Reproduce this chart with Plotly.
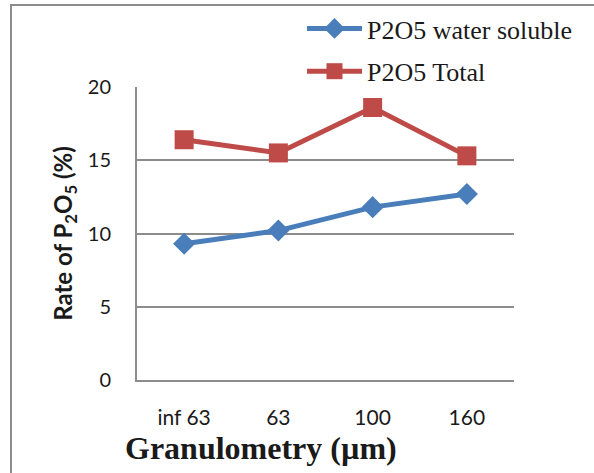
import plotly.graph_objects as go

# Granulometry classes and measured P2O5 rates (%)
categories = ["inf 63", "63", "100", "160"]
p2o5_water_soluble = [9.3, 10.2, 11.8, 12.7]
p2o5_total = [16.4, 15.5, 18.6, 15.3]
y_ticks = [0, 5, 10, 15, 20]

W, H = 594, 473
L, R, T, B = 137, 80, 87, 93
pw, ph = W - L - R, H - T - B

SERIF = "Liberation Serif, Times New Roman, serif"
SANS = "Lato, Liberation Sans, sans-serif"

fig = go.Figure()
fig.add_trace(go.Scatter(
    x=categories, y=p2o5_water_soluble, name="P2O5 water soluble",
    mode="lines+markers", legendgroup="a",
    line=dict(color="#4A7EBB", width=5),
    marker=dict(symbol="diamond", size=17, color="#4A7EBB"),
))
fig.add_trace(go.Scatter(
    x=categories, y=p2o5_total, name="P2O5 Total",
    mode="lines+markers", legendgroup="b",
    line=dict(color="#BE4B48", width=5),
    marker=dict(symbol="square", size=19, color="#BE4B48"),
))

# outer chart border
fig.add_shape(type="rect", xref="paper", yref="paper",
              x0=(11 - L) / pw, x1=(W + 20 - L) / pw,
              y0=(H - T - (H + 20)) / ph, y1=(H - T - 11) / ph,
              line=dict(color="#8C8C8C", width=2), fillcolor="rgba(0,0,0,0)", layer="below")

# x-axis title, set left of the plot centre
fig.add_annotation(text="<b>Granulometry (µm)</b>", xref="paper", yref="paper",
                   x=(261 - L) / pw, y=-(448 - (H - B)) / ph,
                   xanchor="center", yanchor="middle", showarrow=False,
                   font=dict(family=SERIF, size=32, color="#1a1a1a"))

fig.update_layout(
    width=W, height=H,
    margin=dict(l=L, r=R, t=T, b=B, autoexpand=False),
    paper_bgcolor="white", plot_bgcolor="white",
    showlegend=True,
    legend=dict(
        xref="container", yref="container",
        x=302 / W, y=1 - 5 / H, xanchor="left", yanchor="top",
        font=dict(family=SERIF, size=26, color="#1a1a1a"),
        traceorder="grouped", tracegroupgap=6, itemwidth=55,
        bgcolor="rgba(0,0,0,0)",
    ),
    xaxis=dict(
        range=[-0.5, len(categories) - 0.5],
        showgrid=False, showline=True, linecolor="#8C8C8C", linewidth=2,
        ticks="", ticklabelstandoff=18,
        tickfont=dict(family=SANS, size=21, color="#1a1a1a"),
    ),
    yaxis=dict(
        range=[0, 20], tickvals=y_ticks, showgrid=True, gridcolor="#8C8C8C", gridwidth=2,
        showline=True, linecolor="#8C8C8C", linewidth=2, zeroline=False,
        ticks="", ticklabelstandoff=20,
        tickfont=dict(family=SANS, size=20, color="#1a1a1a"),
        title=dict(text="<b>Rate of P<sub>2</sub>O<sub>5</sub> (%)</b>",
                   font=dict(family=SANS, size=24, color="#1a1a1a"),
                   standoff=8),
    ),
)

fig.write_html("out.html")
